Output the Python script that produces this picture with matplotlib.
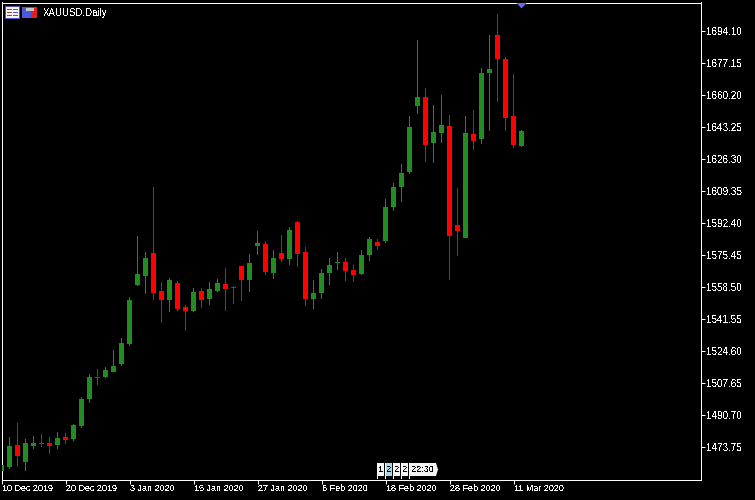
import matplotlib
matplotlib.use("Agg")
import matplotlib.pyplot as plt
from matplotlib.patches import Polygon, Rectangle
from matplotlib.transforms import Affine2D

W, H = 755, 500
GREEN = "#228B22"
RED = "#FF0000"

opens = [1461.30, 1463.41, 1475.06, 1466.06, 1474.54, 1476.13, 1476.13, 1475.06, 1479.30, 1478.24, 1485.13,
         1499.44, 1511.09, 1511.09, 1513.73, 1517.97, 1528.57, 1559.82, 1564.59, 1576.77, 1556.64, 1551.87,
         1560.88, 1548.17, 1546.05, 1556.64, 1552.40, 1556.64, 1560.35, 1558.76, 1569.88, 1562.47, 1580.48,
         1581.54, 1566.18, 1576.77, 1573.59, 1593.19, 1577.30, 1552.40, 1555.58, 1566.18, 1571.47, 1572.00,
         1567.77, 1565.65, 1575.71, 1582.60, 1583.13, 1601.13, 1611.73, 1619.68, 1654.64, 1659.40, 1635.04,
         1640.34, 1644.04, 1591.60, 1584.72, 1639.81, 1637.16, 1672.12, 1692.25, 1679.53, 1649.34, 1633.45]
highs = [1464.47, 1479.30, 1486.72, 1478.24, 1479.83, 1480.89, 1479.30, 1481.95, 1481.42, 1486.19, 1500.49,
         1512.67, 1515.33, 1516.38, 1525.39, 1531.75, 1553.46, 1585.77, 1577.30, 1611.73, 1561.41, 1563.53,
         1561.94, 1549.22, 1558.23, 1558.23, 1561.41, 1563.00, 1568.83, 1559.29, 1569.88, 1576.24, 1588.43,
         1583.13, 1578.36, 1586.31, 1590.54, 1593.72, 1579.95, 1562.47, 1568.30, 1574.12, 1577.30, 1574.12,
         1570.42, 1578.36, 1585.25, 1584.19, 1605.37, 1613.85, 1623.91, 1649.34, 1689.60, 1664.17, 1655.17,
         1660.46, 1649.87, 1611.20, 1649.34, 1652.52, 1674.77, 1692.25, 1703.37, 1680.59, 1671.59, 1641.92]
lows = [1461.30, 1462.35, 1463.41, 1461.30, 1472.95, 1474.01, 1470.30, 1472.95, 1475.60, 1477.19, 1484.07,
        1497.32, 1506.85, 1510.56, 1513.73, 1516.91, 1527.51, 1559.29, 1555.05, 1551.87, 1539.69, 1545.52,
        1546.05, 1535.45, 1545.52, 1547.64, 1549.22, 1556.11, 1546.05, 1549.76, 1551.35, 1556.11, 1575.71,
        1565.12, 1563.00, 1572.00, 1570.42, 1569.35, 1548.70, 1547.11, 1552.40, 1559.82, 1567.77, 1561.94,
        1561.41, 1565.12, 1572.53, 1578.36, 1582.07, 1599.02, 1603.79, 1618.62, 1650.40, 1624.97, 1624.44,
        1635.04, 1562.47, 1575.18, 1584.72, 1631.33, 1634.51, 1641.39, 1656.76, 1641.39, 1632.39, 1632.92]
closes = [1464.47, 1474.54, 1469.24, 1476.13, 1476.13, 1475.60, 1474.54, 1478.78, 1477.72, 1485.66, 1499.44,
          1511.09, 1510.56, 1514.80, 1516.91, 1529.10, 1551.87, 1565.65, 1574.12, 1555.58, 1551.87, 1562.47,
          1547.11, 1546.05, 1556.11, 1551.87, 1557.70, 1560.88, 1557.70, 1558.23, 1562.47, 1571.47, 1582.07,
          1566.70, 1574.12, 1573.59, 1588.95, 1576.24, 1552.40, 1555.58, 1566.18, 1570.42, 1572.00, 1567.23,
          1565.12, 1575.71, 1584.19, 1580.48, 1601.13, 1611.73, 1619.15, 1643.51, 1659.40, 1633.98, 1640.87,
          1644.57, 1585.77, 1588.43, 1640.34, 1636.10, 1672.12, 1674.24, 1679.53, 1648.28, 1633.98, 1641.39]

price_ticks = [1694.10, 1677.15, 1660.20, 1643.25, 1626.30, 1609.35, 1592.40,
               1575.45, 1558.50, 1541.55, 1524.60, 1507.65, 1490.70, 1473.75]
date_ticks = [0, 8, 16, 24, 32, 40, 48, 56, 64]
date_labels = ["10 Dec 2019", "20 Dec 2019", "3 Jan 2020", "15 Jan 2020", "27 Jan 2020",
               "6 Feb 2020", "18 Feb 2020", "28 Feb 2020", "11 Mar 2020"]

plt.rcParams["font.family"] = ["Liberation Sans", "DejaVu Sans"]
plt.rcParams["text.antialiased"] = False

fig = plt.figure(figsize=(W / 100, H / 100), dpi=100, facecolor="black")
ax = fig.add_axes([1.5 / W, (H - 479.5) / H, 699 / W, 477 / H], facecolor="black")
ax.set_xlim(0, 699 / 8)
ax.set_ylim(1456.79, 1709.46)

# candles: one pixel wick, five pixel body, both as bars so they snap the same way
days = list(range(len(opens)))
colours = [GREEN if c >= o else RED for o, c in zip(opens, closes)]
wick_heights = [h - l for h, l in zip(highs, lows)]
ax.bar(days, wick_heights, bottom=lows, width=1 / 8, color=colours, linewidth=0, antialiased=False, zorder=2)
bottoms = [min(o, c) for o, c in zip(opens, closes)]
heights = [abs(c - o) for o, c in zip(opens, closes)]
ax.bar(days, heights, bottom=bottoms, width=5 / 8, color=colours, linewidth=0, antialiased=False, zorder=3)

ax.yaxis.tick_right()
ax.set_yticks(price_ticks)
ax.set_yticklabels([f"{p:.2f}" for p in price_ticks], fontsize=7.1, color="white")
ax.set_xticks(date_ticks)
ax.set_xticklabels(date_labels, fontsize=6.5, color="white", ha="left")
ax.tick_params(axis="both", length=2.9, width=0.72, color="white", pad=1.5)
ax.tick_params(axis="x", pad=0.5)
for spine in ax.spines.values():
    spine.set_color("white")
    spine.set_linewidth(0.72)

# everything below is window furniture, placed in image pixels
px = Affine2D().scale(1, -1).translate(0, H)


def box(x, y, w, h, colour, z=6):
    fig.add_artist(Rectangle((x, y), w, h, transform=px, facecolor=colour, linewidth=0,
                             antialiased=False, zorder=z))


def label(x, y, s, colour="black", ha="left", size=7.0):
    fig.text(x, H - y, s, transform=Affine2D(), color=colour, fontsize=size,
             ha=ha, va="center", zorder=8)


# chart window icons
box(5, 6, 15, 13, "#5050c8")
box(6, 7, 13, 11, "#f4f4f4")
for row in (9, 12, 15):
    box(7, row, 5, 1, "#b04040", 7)
    box(13, row, 5, 1, "#5050e0", 7)
box(22, 7, 9, 11, "#4a5ae0")
box(31, 7, 6, 11, "#e02020")
box(26, 8, 8, 3, "#c8c8c8", 7)
label(43, 12.5, "XAUUSD,Daily", "white")

# shift marker on the top edge
fig.add_artist(Polygon([(516.5, 3), (526.5, 3), (521.5, 8.5)], transform=px, facecolor="#6a6ae0",
                       edgecolor="none", zorder=6))

# time tag at the bottom of the window
for x, w, colour in [(377, 7, "#f4f4f4"), (385, 7, "#add8e6"), (393, 7, "#f4f4f4"), (401, 7, "#f4f4f4")]:
    box(x, 463, w, 13, colour)
box(409, 463, 27, 13, "#f4f4f4")
fig.add_artist(Polygon([(436, 463), (438, 469.5), (436, 476)], transform=px, facecolor="#f4f4f4",
                       edgecolor="none", zorder=6))
for x in (377, 385, 393, 401, 409):
    box(x, 463, 1, 16, "white", 7)
for x, s in [(381, "1"), (389, "2"), (397, "2"), (405, "2")]:
    label(x, 469.5, s, ha="center", size=6.8)
label(423, 469.5, "22:30", ha="center", size=6.6)

fig.savefig("out.png", dpi=100, facecolor="black")
